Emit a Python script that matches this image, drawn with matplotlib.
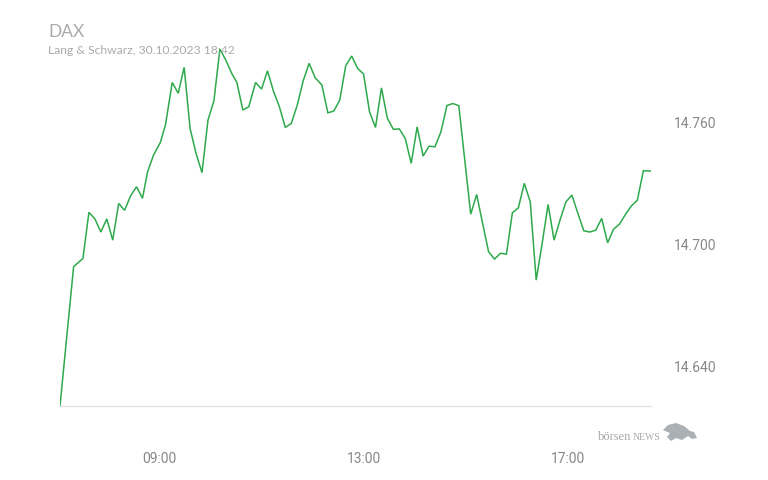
import matplotlib
matplotlib.use("Agg")
import matplotlib.pyplot as plt
from matplotlib.patches import Polygon

# DAX intraday quotes (Lang & Schwarz, 30.10.2023)
times = ["07:03", "07:19", "07:30", "07:37", "07:44", "07:51", "07:58", "08:05", "08:12", "08:19",
         "08:26", "08:33", "08:40", "08:46", "08:53", "09:01", "09:07", "09:15", "09:22", "09:29",
         "09:36", "09:43", "09:50", "09:57", "10:04", "10:11", "10:18", "10:25", "10:31", "10:38",
         "10:45", "10:53", "11:00", "11:07", "11:14", "11:21", "11:28", "11:35", "11:42", "11:49",
         "11:56", "12:03", "12:11", "12:18", "12:25", "12:32", "12:39", "12:46", "12:53", "13:00",
         "13:07", "13:14", "13:21", "13:28", "13:35", "13:42", "13:49", "13:56", "14:03", "14:10",
         "14:17", "14:24", "14:31", "14:38", "14:45", "14:52", "14:59", "15:06", "15:13", "15:20",
         "15:27", "15:34", "15:41", "15:48", "15:55", "16:02", "16:09", "16:16", "16:23", "16:30",
         "16:37", "16:44", "16:51", "16:58", "17:05", "17:12", "17:19", "17:26", "17:33", "17:40",
         "17:47", "17:54", "18:01", "18:08", "18:15", "18:22", "18:29", "18:38"]
values = [14620.3, 14688.9, 14693.0, 14715.7, 14712.5, 14706.0, 14712.5, 14702.0, 14720.1, 14716.7,
          14723.8, 14728.3, 14722.6, 14735.7, 14743.9, 14750.1, 14758.7, 14779.7, 14774.3, 14787.1,
          14757.0, 14744.7, 14735.2, 14761.1, 14770.6, 14796.1, 14790.7, 14784.1, 14779.7, 14766.1,
          14767.7, 14779.7, 14776.4, 14785.4, 14775.4, 14767.7, 14757.5, 14759.5, 14768.5, 14780.5,
          14789.1, 14782.0, 14778.4, 14764.7, 14765.6, 14771.0, 14787.9, 14792.7, 14786.6, 14783.8,
          14765.2, 14757.5, 14777.0, 14762.0, 14756.6, 14756.8, 14752.1, 14739.8, 14757.8, 14743.4,
          14748.3, 14748.0, 14755.4, 14768.3, 14769.3, 14768.2, 14741.4, 14714.8, 14724.5, 14710.2,
          14696.3, 14692.7, 14695.5, 14695.1, 14715.5, 14717.9, 14730.0, 14720.9, 14682.3, 14700.4,
          14719.6, 14702.0, 14711.9, 14720.9, 14724.2, 14715.2, 14706.6, 14706.0, 14706.9, 14712.7,
          14700.7, 14707.4, 14709.9, 14714.7, 14718.9, 14721.7, 14736.2, 14736.0]

y_ticks = [14640, 14700, 14760]
x_ticks = ["09:00", "13:00", "17:00"]


def to_hours(s):
    h, m = s.split(":")
    return int(h) + int(m) / 60


hours = [to_hours(t) for t in times]

W, H = 768, 480
fig = plt.figure(figsize=(W / 100, H / 100), dpi=100)
fig.patch.set_facecolor("white")

# axes box in pixel terms: x 60..651, y 48.7..406
ax = fig.add_axes([60 / W, (H - 406) / H, (651 - 60) / W, (406 - 48.7) / H])
ax.plot(hours, values, color="#2eaa4c", linewidth=1.1, solid_joinstyle="miter")

ax.set_xlim(hours[0], hours[-1])
ax.set_ylim(14620.3, 14796.3)

ax.set_yticks(y_ticks)
ax.set_yticklabels([f"{v:,}".replace(",", ".") for v in y_ticks])
ax.yaxis.tick_right()
ax.set_xticks([to_hours(t) for t in x_ticks])
ax.set_xticklabels(x_ticks)

for lab in ax.get_xticklabels() + ax.get_yticklabels():
    lab.set_fontfamily("Roboto")
    lab.set_fontsize(10)
    lab.set_color("#888888")
ax.tick_params(axis="y", length=0, pad=16.5)
ax.tick_params(axis="x", length=0, pad=33)

for side in ["top", "right", "left"]:
    ax.spines[side].set_visible(False)
ax.spines["bottom"].set_color("#e2e2e2")
ax.spines["bottom"].set_linewidth(1.0)
ax.set_facecolor("none")

# header
fig.text(48 / W, 1 - 37 / H, "DAX", fontfamily="Lato", fontsize=12.5, color="#aaaaaa")
fig.text(48 / W, 1 - 54 / H, "Lang & Schwarz, 30.10.2023 18:42", fontfamily="Lato",
         fontsize=8.75, color="#aaaaaa")

# watermark
fig.text(598 / W, 1 - 440 / H, "börsen", fontfamily="Liberation Serif", fontsize=9, color="#a8a8a8")
fig.text(633 / W, 1 - 440 / H, "NEWS", fontfamily="Liberation Serif", fontsize=7, color="#a8a8a8")
bull = [(663, 430), (668, 425), (676, 423), (684, 426), (690, 431), (694, 432), (697, 438),
        (692, 439), (688, 436), (682, 440), (676, 438), (671, 441), (667, 437), (670, 433)]
fig.patches.append(Polygon([(x / W, 1 - y / H) for x, y in bull], closed=True,
                           transform=fig.transFigure, facecolor="#aab0b3", edgecolor="none"))

fig.savefig("out.png", dpi=100)
